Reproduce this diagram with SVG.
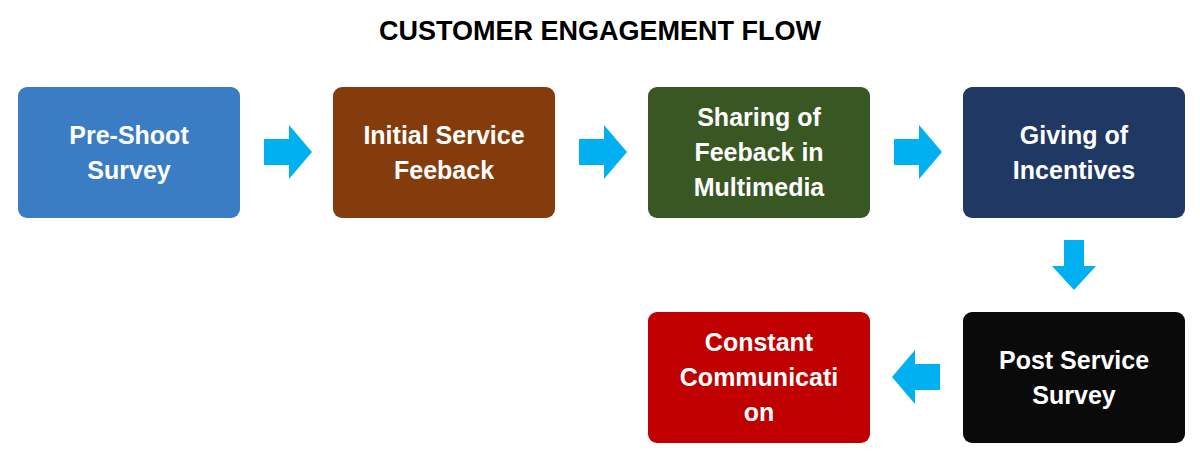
<svg xmlns="http://www.w3.org/2000/svg" width="1200" height="464" viewBox="0 0 1200 464">
<style>
.t{font-family:"Liberation Sans",Arial,sans-serif;font-weight:bold;fill:#fff;font-size:25px;text-anchor:middle}
.h{font-family:"Liberation Sans",Arial,sans-serif;font-weight:bold;fill:#000;font-size:27px;text-anchor:middle}
.a{fill:#00b0f0}
</style>
<rect width="1200" height="464" fill="#fff"/>
<text class="h" x="600" y="40">CUSTOMER ENGAGEMENT FLOW</text>
<g id="n1"><rect x="18" y="87" width="222" height="131" rx="9" fill="#3a7dc4"/><text class="t" x="129" y="144">Pre-Shoot</text><text class="t" x="129" y="179">Survey</text></g>
<g id="n2"><rect x="333" y="87" width="222" height="131" rx="9" fill="#843c0c"/><text class="t" x="444" y="144">Initial Service</text><text class="t" x="444" y="179">Feeback</text></g>
<g id="n3"><rect x="648" y="87" width="222" height="131" rx="9" fill="#385723"/><text class="t" x="759" y="126">Sharing of</text><text class="t" x="759" y="161">Feeback in</text><text class="t" x="759" y="196">Multimedia</text></g>
<g id="n4"><rect x="963" y="87" width="222" height="131" rx="9" fill="#1f3864"/><text class="t" x="1074" y="144">Giving of</text><text class="t" x="1074" y="179">Incentives</text></g>
<g id="n5"><rect x="963" y="312" width="222" height="131" rx="9" fill="#0a0a0a"/><text class="t" x="1074" y="369">Post Service</text><text class="t" x="1074" y="404">Survey</text></g>
<g id="n6"><rect x="648" y="312" width="222" height="131" rx="9" fill="#c00000"/><text class="t" x="759" y="351">Constant</text><text class="t" x="759" y="386">Communicati</text><text class="t" x="759" y="421">on</text></g>
<g id="connectors">
<polygon class="a" points="264,139 289,139 289,125 312,152 289,179 289,165 264,165"/>
<polygon class="a" points="579,139 604,139 604,125 627,152 604,179 604,165 579,165"/>
<polygon class="a" points="894,139 919,139 919,125 942,152 919,179 919,165 894,165"/>
<polygon class="a" points="1064,240 1084,240 1084,266 1096,266 1074,290 1052,266 1064,266"/>
<polygon class="a" points="940,364 915,364 915,350 892,377 915,404 915,390 940,390"/>
</g>
</svg>
